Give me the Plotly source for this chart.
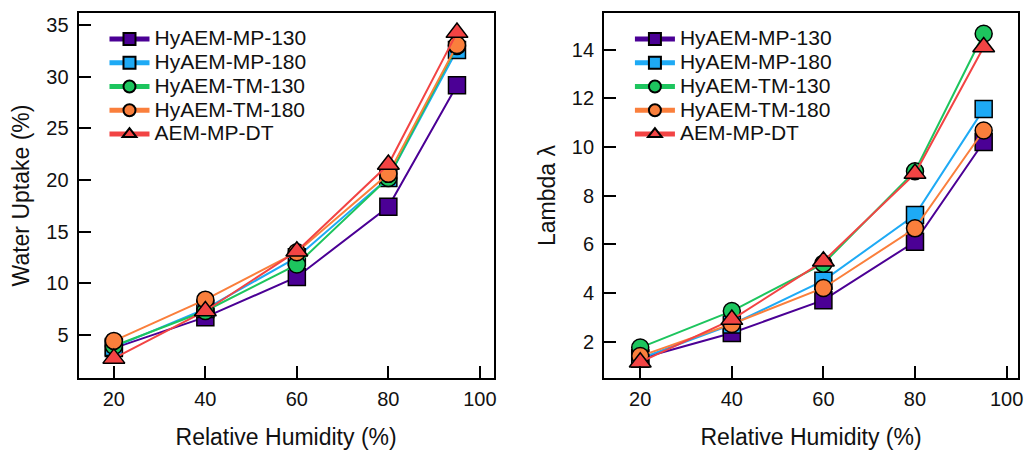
import plotly.graph_objects as go

rh = [20, 40, 60, 80, 95]
names = ["HyAEM-MP-130", "HyAEM-MP-180", "HyAEM-TM-130", "HyAEM-TM-180", "AEM-MP-DT"]
colors = ["#4B0095", "#1EAAF5", "#1DC55E", "#FA7F3C", "#F24444"]
symbols = ["square", "square", "circle", "circle", "triangle-up"]

wu_mp130 = [3.7, 6.7, 10.6, 17.4, 29.2]
wu_mp180 = [3.8, 7.5, 12.5, 20.2, 32.6]
wu_tm130 = [3.9, 7.3, 11.8, 20.2, 33.0]
wu_tm180 = [4.4, 8.4, 13.0, 20.6, 33.1]
wu_dt = [2.7, 7.3, 13.1, 21.5, 34.3]

lam_mp130 = [1.3, 2.35, 3.7, 6.1, 10.2]
lam_mp180 = [1.3, 2.7, 4.5, 7.2, 11.55]
lam_tm130 = [1.75, 3.25, 5.2, 9.0, 14.65]
lam_tm180 = [1.4, 2.72, 4.2, 6.65, 10.67]
lam_dt = [1.15, 2.9, 5.3, 8.9, 14.1]

wu = [wu_mp130, wu_mp180, wu_tm130, wu_tm180, wu_dt]
lam = [lam_mp130, lam_mp180, lam_tm130, lam_tm180, lam_dt]

def label(n):
    return '<span style="font-size:21px">' + n + '</span>'

fig = go.Figure()
for i in range(5):
    sz = 19 if symbols[i] == "triangle-up" else 17
    fig.add_trace(go.Scatter(
        x=rh, y=wu[i], name=label(names[i]), mode="lines+markers",
        line=dict(color=colors[i], width=2),
        marker=dict(symbol=symbols[i], size=sz, color=colors[i],
                    line=dict(color="black", width=1.5)),
        xaxis="x", yaxis="y", legend="legend"))
for i in range(5):
    sz = 19 if symbols[i] == "triangle-up" else 17
    fig.add_trace(go.Scatter(
        x=rh, y=lam[i], name=label(names[i]), mode="lines+markers",
        line=dict(color=colors[i], width=2),
        marker=dict(symbol=symbols[i], size=sz, color=colors[i],
                    line=dict(color="black", width=1.5)),
        xaxis="x2", yaxis="y2", legend="legend2"))

font = dict(family="Liberation Sans, Arial, sans-serif", size=20, color="#111111")
title_font = dict(family="Liberation Sans, Arial, sans-serif", size=23, color="#111111")

axis_common = dict(showline=True, linecolor="black", linewidth=2, mirror=True,
                   ticks="inside", ticklen=12, tickwidth=2, tickcolor="black",
                   showgrid=False, zeroline=False, tickfont=font)

leg_common = dict(xanchor="left", yanchor="top", bgcolor="rgba(0,0,0,0)",
                  font=dict(family="Liberation Sans, Arial, sans-serif", size=16, color="#111111"),
                  tracegroupgap=0, itemsizing="constant", itemwidth=40)

fig.update_layout(
    width=1030, height=450,
    margin=dict(l=0, r=0, t=0, b=0),
    plot_bgcolor="white", paper_bgcolor="white",
    font=font,
    xaxis=dict(domain=[79/1030, 496/1030], range=[12.3, 103], tickvals=[20, 40, 60, 80, 100],
               ticklabelstandoff=2,
               title=dict(text="Relative Humidity (%)", font=title_font, standoff=22),
               anchor="y", **axis_common),
    yaxis=dict(domain=[1-378/450, 1-13/450], range=[0.8, 36.2], tickvals=[5, 10, 15, 20, 25, 30, 35],
               ticklabelstandoff=4,
               title=dict(text="Water Uptake (%)", font=title_font, standoff=10),
               anchor="x", **axis_common),
    xaxis2=dict(domain=[607/1030, 1023/1030], range=[12.1, 102.5], tickvals=[20, 40, 60, 80, 100],
                ticklabelstandoff=2,
                title=dict(text="Relative Humidity (%)", font=title_font, standoff=22),
                anchor="y2", **axis_common),
    yaxis2=dict(domain=[1-378/450, 1-13/450], range=[0.5, 15.5], tickvals=[2, 4, 6, 8, 10, 12, 14],
                ticklabelstandoff=4,
                title=dict(text="Lambda λ", font=title_font, standoff=10),
                anchor="x2", **axis_common),
    legend=dict(x=105/1030, y=1-22/450, **leg_common),
    legend2=dict(x=633/1030, y=1-22/450, **leg_common),
)

fig.write_html("out.html")
